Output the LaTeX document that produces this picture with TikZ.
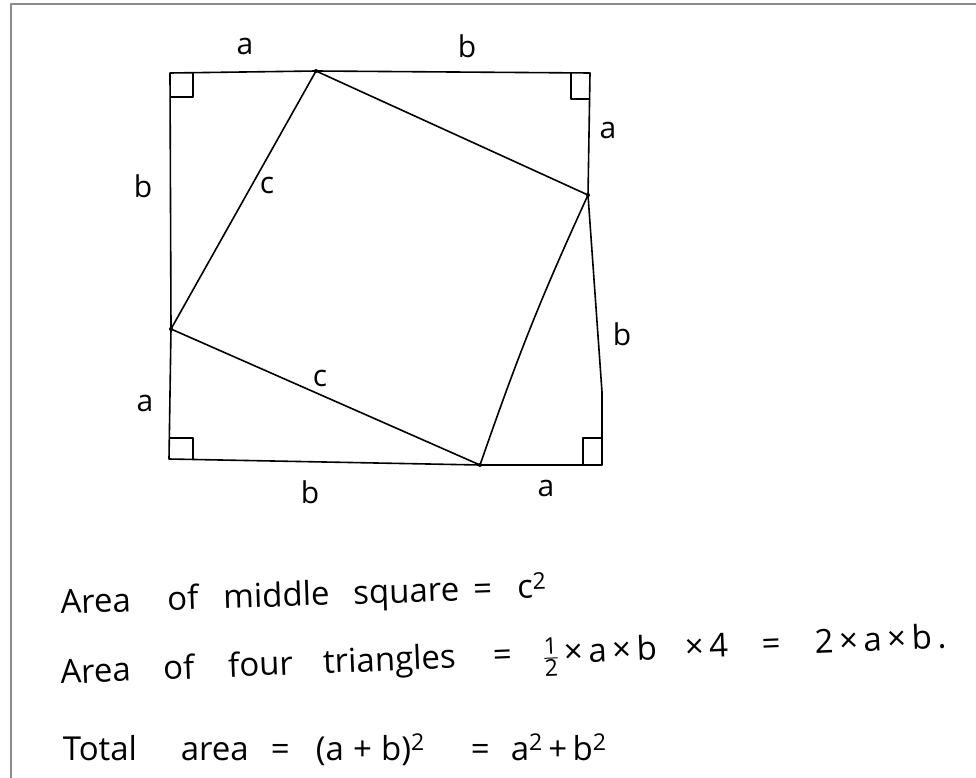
\documentclass[tikz,border=0pt]{standalone}
\usepackage{amsmath}
\usepackage{fontspec}
\setmainfont{Open Sans}
\usepackage{tikz}
\usetikzlibrary{positioning,calc}
\newcommand{\wbox}[2]{\makebox[#1pt][l]{#2}}

\begin{document}
\begin{tikzpicture}[x=1pt, y=-1pt, line width=1.6pt, line join=round,
  lbl/.style={font=\fontsize{30}{34}\selectfont, inner sep=0pt},
  eqn/.style={font=\fontsize{33}{38}\selectfont, anchor=base west, inner sep=0pt},
  rmark/.style={line width=1.3pt}]
  \useasboundingbox (0,0) rectangle (976,778);
  \draw[black!45, line width=2.5pt] (11,778) -- (11,4) -- (976,4);

  % corners of the big square and points on its sides
  \coordinate (TL) at (170,73);
  \coordinate (TR) at (590,73);
  \coordinate (BR) at (602,465);
  \coordinate (BL) at (169,459);
  \coordinate (T) at (316,71);
  \coordinate (R) at (588,195);
  \coordinate (L) at (171,329);
  \coordinate (B) at (480,465);

  \draw (TL) -- (T) -- (TR) -- (R) -- (602,392) -- (BR) -- (B) -- (BL) -- (L) -- cycle;
  \draw (T) -- (R) .. controls (540,300) and (520,350) .. (B) -- (L) -- cycle;
  \foreach \p in {T,R,B,L} \fill (\p) circle (2pt);

  % right angles
  \draw[rmark] ($(TL)+(0,24)$) -| ($(TL)+(23,0)$);
  \draw[rmark] ($(TR)+(-19,0)$) |- ($(TR)+(0,26)$);
  \draw[rmark] ($(BL)+(0,-21)$) -| ($(BL)+(24,0)$);
  \draw[rmark] ($(BR)+(-19,0)$) |- ($(BR)+(0,-27)$);

  % side labels
  \node[lbl] (aTop) at (245,46) {a};
  \node[lbl] (bTop) at (467,46) {b};
  \node[lbl] (aRight) at (608,130) {a};
  \node[lbl] (bRight) at (622,334) {b};
  \node[lbl] (bLeft) at (143,186) {b};
  \node[lbl] (aLeft) at (145,403) {a};
  \node[lbl] (bBot) at (310,492) {b};
  \node[lbl] (aBot) at (546,488) {a};
  \node[lbl] (cUp) at (267,185) {c};
  \node[lbl] (cLow) at (320,378) {c};

  % working
  \node[eqn, rotate=1.9] (middle) at (60,614)
    {\wbox{107}{Area}\wbox{56}{of}\wbox{130}{middle}\wbox{120}{square}\wbox{44}{=}c\textsuperscript{2}};
  \node[eqn, rotate=2.3] (four) at (60,684)
    {\wbox{103}{Area}\wbox{65}{of}\wbox{95}{four}\wbox{170}{triangles}\wbox{50}{=}%
     \wbox{142}{$\frac{\text{1}}{\text{2}}$\,×\,a\,×\,b}\wbox{77}{×\,4}\wbox{53}{=}2\,×\,a\,×\,b\,.};
  \node[eqn] (total) at (62,760)
    {\wbox{118}{Total}\wbox{90}{area}\wbox{45}{=}\wbox{155}{(a\;+\;b)\textsuperscript{2}}\wbox{40}{=}a\textsuperscript{2}\,+\,b\textsuperscript{2}};
\end{tikzpicture}
\end{document}
